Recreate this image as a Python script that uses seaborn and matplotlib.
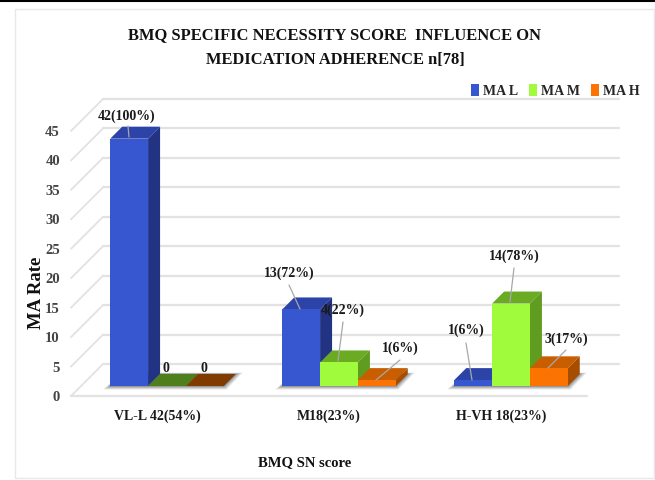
import numpy as np
import pandas as pd
import seaborn as sns
import matplotlib.pyplot as plt
from matplotlib.lines import Line2D
from matplotlib.patches import Polygon, Rectangle

categories = ["VL-L 42(54%)", "M18(23%)", "H-VH 18(23%)"]
series = ["MA L", "MA M", "MA H"]
ma_low = [42, 13, 1]
ma_mid = [0, 4, 14]
ma_high = [0, 1, 3]
y_ticks = [0, 5, 10, 15, 20, 25, 30, 35, 40, 45]
low_labels = ["42(100%)", "13(72%)", "1(6%)"]
mid_labels = ["0", "4(22%)", "14(78%)"]
high_labels = ["0", "1(6%)", "3(17%)"]

FRONT = {"MA L": "#3757d0", "MA M": "#9ffb3c", "MA H": "#fb7300"}
SIDE = {"MA L": "#233384", "MA M": "#5f9c1f", "MA H": "#a64d00"}
TOP = {"MA L": "#2c44a8", "MA M": "#6bab24", "MA H": "#c85e00"}
FLAT = {"MA L": "#2c44a8", "MA M": "#4f7f1c", "MA H": "#803b00"}

W, H = 655, 480
X0, X1, Y0, Y45 = 71, 587, 396, 131


def px(x, y):
    # reference pixels to figure coordinates
    return x / W, 1 - y / H


sns.set_theme(style="white")
plt.rcParams["font.family"] = ["Liberation Serif", "DejaVu Serif"]
plt.rcParams["font.weight"] = "bold"

df = pd.DataFrame({
    "score": categories * 3,
    "ma": np.repeat(series, 3),
    "rate": ma_low + ma_mid + ma_high,
})

fig = plt.figure(figsize=(W / 100, H / 100), dpi=100)
ax = fig.add_axes([X0 / W, 1 - Y0 / H, (X1 - X0) / W, (Y0 - Y45) / H])
sns.barplot(data=df, x="score", y="rate", hue="ma", hue_order=series, order=categories,
            palette=FRONT, width=0.66, gap=0, saturation=1, legend=True, linewidth=0, ax=ax)
ax.set_xlim(-0.5, 2.5)
ax.set_ylim(0, 45)
ax.set_yticks(y_ticks)
sns.despine(ax=ax, left=True, bottom=True)

# sizes of the fake 3D effect in data units
unit_x = 3 / (X1 - X0)
unit_y = 45 / (Y0 - Y45)
wall_x, wall_y = 32 * unit_x, 32 * unit_y
depth_x, depth_y = 12 * unit_x, 12 * unit_y
shift_x, shift_y = 10 * unit_x, 10 * unit_y

# walls and floor
grid = "#e2e2e2"
for t in y_ticks:
    ax.add_line(Line2D([-0.5, -0.5 + wall_x], [t, t + wall_y], color=grid, lw=1.3, clip_on=False, zorder=0))
    ax.add_line(Line2D([-0.5 + wall_x, 2.5 + wall_x], [t + wall_y, t + wall_y], color=grid, lw=1.6, clip_on=False, zorder=0))
ax.add_line(Line2D([-0.5, 2.5], [0, 0], color=grid, lw=1.6, clip_on=False, zorder=0))

# shadow under every group
for i in range(len(categories)):
    left = i - 0.33 + shift_x
    right = i + 0.33 + shift_x
    for grow, alpha in [(7, 0.12), (5, 0.16), (3, 0.2), (1, 0.3)]:
        g = grow * unit_x
        gy = grow * unit_y * 0.5
        ax.add_patch(Polygon([[left - g, shift_y - gy], [right + g * 0.4, shift_y - gy],
                              [right + depth_x + g, shift_y + depth_y + gy * 0.4],
                              [left + depth_x, shift_y + depth_y + gy * 0.4]],
                             closed=True, fc="#333333", ec="none", alpha=alpha, zorder=1, clip_on=False))

# move the bars back on the floor and add top and side faces
for order, (name, bars) in enumerate(zip(series, ax.containers)):
    for bar in bars:
        bar.set_x(bar.get_x() + shift_x)
        bar.set_y(bar.get_y() + shift_y)
        bar.set_zorder(3 + order * 2)
        bar.set_clip_on(False)
        x, y, w, h = bar.get_x(), bar.get_y(), bar.get_width(), bar.get_height()
        z = 2 + order * 2
        top_colour = TOP[name] if h > 0 else FLAT[name]
        ax.add_patch(Polygon([[x, y + h], [x + w, y + h], [x + w + depth_x, y + h + depth_y], [x + depth_x, y + h + depth_y]],
                             closed=True, fc=top_colour, ec="none", zorder=z, clip_on=False))
        if h > 0:
            ax.add_patch(Polygon([[x + w, y], [x + w + depth_x, y + depth_y], [x + w + depth_x, y + h + depth_y], [x + w, y + h]],
                                 closed=True, fc=SIDE[name], ec="none", zorder=z, clip_on=False))

ax.tick_params(axis="y", length=0, pad=8, labelsize=10.5, labelcolor="#444444")
ax.tick_params(axis="x", length=0, pad=10, labelsize=10, labelcolor="#1a1a1a")
ax.set_ylabel("MA Rate", fontsize=13.5, fontweight="bold", color="#111111")
ax.yaxis.set_label_coords((45 - X0) / (X1 - X0), (Y0 - 293) / (Y0 - Y45))
ax.set_xlabel("BMQ SN score", fontsize=10.5, fontweight="bold", color="#111111")
ax.xaxis.set_label_coords((305 - X0) / (X1 - X0), -(456 - Y0) / (Y0 - Y45))

# data labels with their leader lines, placed by hand like in the original chart
label_spots = {
    low_labels[0]: (127, 116, [(128, 126), (129, 137)]),
    low_labels[1]: (289, 273, [(289, 285), (300, 309)]),
    mid_labels[1]: (343, 310, [(343, 322), (338, 361)]),
    high_labels[1] + "m": (400, 348, [(400, 360), (376, 380)]),
    low_labels[2] + "h": (466, 330, [(466, 343), (472, 380)]),
    mid_labels[2]: (514, 256, [(514, 268), (510, 302)]),
    high_labels[2]: (566, 339, [(566, 350), (548, 368)]),
}
for key, (tx, ty, leader) in label_spots.items():
    text = key.rstrip("mh")
    fig.text(*px(tx, ty), text, ha="center", va="center", fontsize=10, color="#1a1a1a", zorder=20)
    (xa, ya), (xb, yb) = leader
    fx, fy = zip(px(xa, ya), px(xb, yb))
    fig.add_artist(Line2D(fx, fy, color="#a8a8a8", lw=0.9, transform=fig.transFigure, zorder=19))
for tx, text in [(166, mid_labels[0]), (204, high_labels[0])]:
    fig.text(*px(tx, 368), text, ha="center", va="center", fontsize=10, color="#1a1a1a", zorder=20)

# title and legend
fig.text(*px(335, 48), "BMQ SPECIFIC NECESSITY SCORE  INFLUENCE ON\nMEDICATION ADHERENCE n[78]",
         ha="center", va="center", fontsize=11.9, fontweight="bold", color="#111111", linespacing=1.75)
sns.move_legend(ax, "center", bbox_to_anchor=((555 - X0) / (X1 - X0), (Y0 - 91) / (Y0 - Y45)), ncol=3, frameon=False,
                title=None, fontsize=10, handlelength=0.6, handleheight=0.9, handletextpad=0.25,
                columnspacing=0.8, borderpad=0)

# outer frame of the figure
fig.add_artist(Rectangle(px(15, 478), (W - 16) / W, 469 / H, fill=False, ec="#e8e8e8", lw=1.0, transform=fig.transFigure, zorder=-1))
fig.add_artist(Line2D([0, 1], [1 - 0.5 / H, 1 - 0.5 / H], color="black", lw=1.5, transform=fig.transFigure))

fig.savefig("out.png", dpi=100)
